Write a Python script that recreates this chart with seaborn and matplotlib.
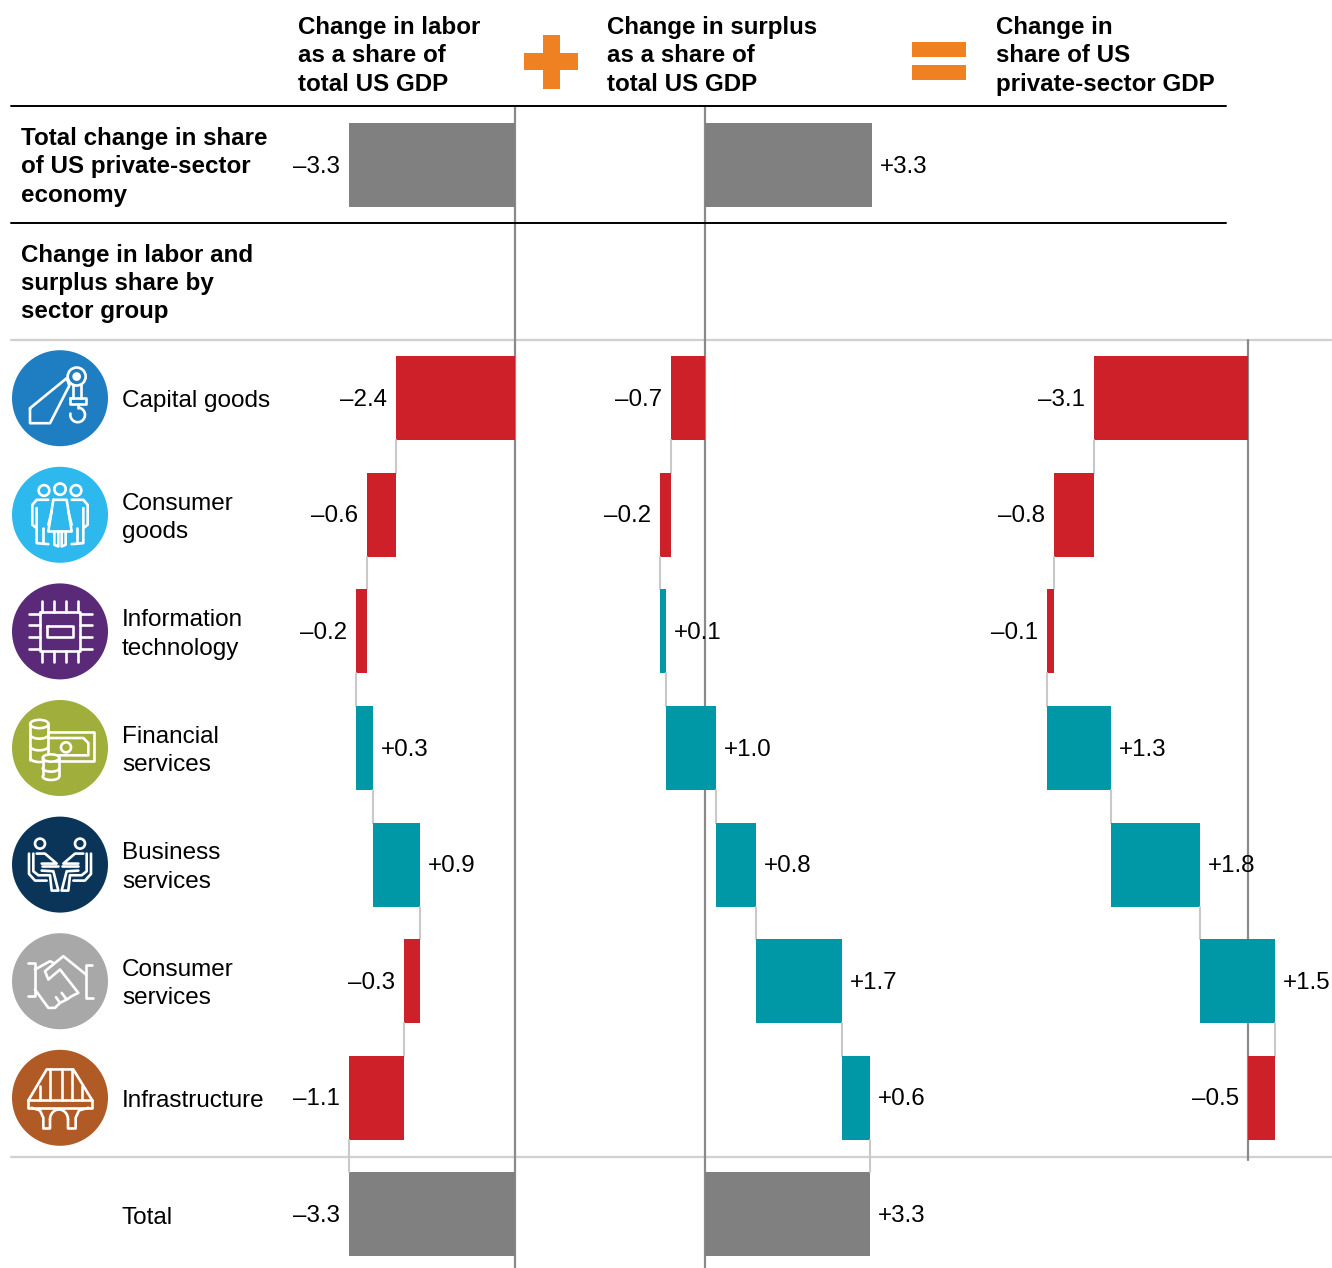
import numpy as np
import matplotlib
matplotlib.use("Agg")
import matplotlib.pyplot as plt
import seaborn as sns
from matplotlib.patches import Circle, Rectangle, Ellipse

sns.set_theme(style="white")
plt.rcParams['font.family'] = ['Liberation Sans', 'DejaVu Sans']

# data
sectors = ["Capital goods", "Consumer\ngoods", "Information\ntechnology", "Financial\nservices",
           "Business\nservices", "Consumer\nservices", "Infrastructure"]
labor = [-2.38, -0.58, -0.22, 0.34, 0.94, -0.32, -1.10]
surplus = [-0.68, -0.22, 0.12, 1.00, 0.80, 1.72, 0.56]
gdp_share = [-3.08, -0.80, -0.14, 1.28, 1.78, 1.50, -0.54]
labor_labels = ["–2.4", "–0.6", "–0.2", "+0.3", "+0.9", "–0.3", "–1.1"]
surplus_labels = ["–0.7", "–0.2", "+0.1", "+1.0", "+0.8", "+1.7", "+0.6"]
gdp_labels = ["–3.1", "–0.8", "–0.1", "+1.3", "+1.8", "+1.5", "–0.5"]
top_total = {"labor": -3.32, "surplus": 3.34}
top_labels = {"labor": "–3.3", "surplus": "+3.3"}
headers = ["Change in labor\nas a share of\ntotal US GDP", "Change in surplus\nas a share of\ntotal US GDP",
           "Change in\nshare of US\nprivate-sector GDP"]

rows = ["top", "group"] + sectors + ["Total"]

RED, TEAL, GREY = "#CD2029", "#0098A6", "#808080"
ORANGE = "#F08122"
CONNECT = "#C9C9C9"
ZERO = "#8A8A8A"
FS = 17.4
W, H = 1332, 1268
PX_PER_UNIT = 50
ROW0 = 165.0
ROW_H = 116.6
BAR_H = 0.72
TEXT_COLOR = "#000000"
LINESP = 1.29

fig = plt.figure(figsize=(W / 100, H / 100), dpi=100)
bg = fig.add_axes([0, 0, 1, 1], zorder=0)
bg.set_xlim(0, W)
bg.set_ylim(H, 0)
bg.axis("off")


def row_y(k):
    return ROW0 + ROW_H * k


def place_label(ax, k, start, end, text):
    lo, hi = min(start, end), max(start, end)
    if end < start:
        ax.annotate(text, (lo, k), xytext=(-6.5, -1.2), textcoords="offset points", ha="right", va="center",
                    fontsize=FS, color=TEXT_COLOR, zorder=5)
    else:
        ax.annotate(text, (hi, k), xytext=(6, -1.2), textcoords="offset points", ha="left", va="center",
                    fontsize=FS, color=TEXT_COLOR, zorder=5)


def draw_panel(zero_px, vals, labels, top=None, top_label=None, total=False):
    ax = fig.add_axes([0, 0, 1, 1], zorder=1)
    ax.patch.set_alpha(0)
    cum = np.concatenate([[0], np.cumsum(vals)])
    if top is not None:
        sns.barplot(x=[top], y=["top"], order=rows, orient="h", color=GREY, saturation=1,
                    width=BAR_H, errorbar=None, linewidth=0, ax=ax)
        place_label(ax, 0, 0, top, top_label)
    for i, v in enumerate(vals):
        k = i + 2
        sns.barplot(x=[v], y=[sectors[i]], order=rows, orient="h", left=cum[i], saturation=1,
                    color=TEAL if v > 0 else RED, width=BAR_H, errorbar=None, linewidth=0, ax=ax)
        place_label(ax, k, cum[i], cum[i + 1], labels[i])
        if i < len(vals) - 1:
            ax.plot([cum[i + 1]] * 2, [k + BAR_H / 2, k + 1 - BAR_H / 2], color=CONNECT, lw=1.5, zorder=1)
    if total:
        sns.barplot(x=[cum[-1]], y=["Total"], order=rows, orient="h", color=GREY, saturation=1,
                    width=BAR_H, errorbar=None, linewidth=0, ax=ax)
        ax.plot([cum[-1]] * 2, [8 + BAR_H / 2, 9 - BAR_H / 2], color=CONNECT, lw=1.5, zorder=1)
        place_label(ax, 9, 0, cum[-1], top_label)
    ax.set_xlim(-zero_px / PX_PER_UNIT, (W - zero_px) / PX_PER_UNIT)
    ax.set_ylim((H - ROW0) / ROW_H, -ROW0 / ROW_H)
    ax.axis("off")
    return ax


draw_panel(515, labor, labor_labels, top_total["labor"], top_labels["labor"], total=True)
draw_panel(705, surplus, surplus_labels, top_total["surplus"], top_labels["surplus"], total=True)
draw_panel(1248, gdp_share, gdp_labels)

# zero lines and rules
bg.plot([515, 515], [106, H], color=ZERO, lw=1.6, zorder=2)
bg.plot([705, 705], [106, H], color=ZERO, lw=1.6, zorder=2)
bg.plot([1248, 1248], [340, 1160], color=ZERO, lw=1.6, zorder=2)
bg.plot([11, 1226], [106, 106], color="black", lw=1.4, zorder=3)
bg.plot([11, 1226], [222.5, 222.5], color="black", lw=1.4, zorder=3)
bg.plot([11, 1332], [340, 340], color="#D0D0D0", lw=1.6, zorder=1)
bg.plot([11, 1332], [1157, 1157], color="#D0D0D0", lw=1.6, zorder=1)

# headers
for x, txt in zip([298, 607, 996.5], headers):
    bg.text(x, 56, txt, fontsize=FS, fontweight="bold", va="center", ha="left", linespacing=LINESP, color=TEXT_COLOR)
bg.text(21, 167, "Total change in share\nof US private-sector\neconomy", fontsize=FS, fontweight="bold",
        va="center", ha="left", linespacing=LINESP, color=TEXT_COLOR)
bg.text(21, 283.5, "Change in labor and\nsurplus share by\nsector group", fontsize=FS, fontweight="bold",
        va="center", ha="left", linespacing=LINESP, color=TEXT_COLOR)

# plus and equals
bg.add_patch(Rectangle((524, 52.5), 54, 17, color=ORANGE, lw=0))
bg.add_patch(Rectangle((542.5, 34.5), 17, 54, color=ORANGE, lw=0))
bg.add_patch(Rectangle((912, 42), 54, 15, color=ORANGE, lw=0))
bg.add_patch(Rectangle((912, 65), 54, 15, color=ORANGE, lw=0))

# sector names
for i, name in enumerate(sectors):
    dy = 3 if "\n" in name else 3
    bg.text(122, row_y(i + 2) + dy, name, fontsize=17.5, va="center", ha="left", linespacing=1.37, color=TEXT_COLOR)
bg.text(122, row_y(9) + 4, "Total", fontsize=17.5, va="center", ha="left", color=TEXT_COLOR)


# icons, coordinates in 3x zoom units around the circle centre
class Icon:
    def __init__(self, cy, color):
        self.cx, self.cy = 60, cy
        bg.add_patch(Circle((self.cx, cy), 48, color=color, lw=0, zorder=3))

    def line(self, pts, close=False, lw=1.9):
        pts = np.array(pts, dtype=float) / 3
        if close:
            pts = np.vstack([pts, pts[0]])
        bg.plot(self.cx + pts[:, 0], self.cy + pts[:, 1], color="white", lw=lw, zorder=4,
                solid_joinstyle="round", solid_capstyle="round")

    def mirror(self, pts):
        self.line(pts)
        self.line([(-x, y) for x, y in pts])

    def ring(self, x, y, r, fill=False):
        bg.add_patch(Circle((self.cx + x / 3, self.cy + y / 3), r / 3, fc="white" if fill else "none",
                            ec="white", lw=1.9, zorder=4))

    def arc(self, x, y, rx, ry, a0, a1):
        t = np.radians(np.arange(a0, a1 + 1, 10))
        self.line(np.column_stack([x + rx * np.cos(t), y + ry * np.sin(t)]))


# capital goods
ic = Icon(row_y(2), "#1F7DC1")
ic.line([(-90, 30), (-90, 75), (-30, 75), (28, -38), (20, -60)], close=True)
ic.ring(50, -65, 27)
ic.ring(50, -65, 9, fill=True)
ic.line([(40, -40), (40, 0)])
ic.line([(63, -40), (63, 0)])
ic.line([(30, 0), (78, 0), (78, 18), (30, 18)], close=True)
ic.line([(53, 18), (53, 30)])
ic.arc(53, 50, 22, 22, -80, 190)

# consumer goods
ic = Icon(row_y(3), "#2DB8EE")
ic.ring(-48, -73, 16)
ic.ring(0, -77, 17)
ic.ring(48, -73, 16)
ic.line([(-20, -45), (20, -45), (35, 50), (-35, 50)], close=True)
ic.line([(-17, 50), (-17, 90), (-5, 95), (-5, 50)])
ic.line([(17, 50), (17, 90), (5, 95), (5, 50)])
ic.mirror([(-35, -45), (-70, -45), (-83, -30), (-83, 30), (-70, 40), (-70, -20)])
ic.mirror([(-70, 40), (-70, 85), (-35, 88)])
ic.mirror([(-50, 40), (-50, 85)])
ic.mirror([(-25, -10), (-35, 30)])

# information technology
ic = Icon(row_y(4), "#5A2A78")
ic.line([(-60, -57), (60, -57), (60, 60), (-60, 60)], close=True)
ic.line([(-38, -17), (40, -17), (40, 18), (-38, 18)], close=True)
for p in [-53, -18, 18, 53]:
    ic.line([(p, -92), (p, -57)])
    ic.line([(p, 60), (p, 93)])
    ic.line([(-93, p), (-60, p)])
    ic.line([(60, p), (95, p)])

# financial services
ic = Icon(row_y(5), "#A0AE3C")
ic.line([(-35, -47), (103, -47), (103, 40), (-15, 40)])
ic.line([(-30, -30), (70, -30), (85, -15), (85, 22), (-20, 22)])
ic.ring(18, -2, 15)
bg.add_patch(Ellipse((ic.cx - 62 / 3, ic.cy - 72 / 3), 55 / 3, 25 / 3, fc="none", ec="white", lw=1.9, zorder=4))
ic.line([(-89, -72), (-89, 35)])
ic.line([(-35, -72), (-35, 20)])
for y in [-40, -5, 30]:
    ic.arc(-62, y, 27, 12, 0, 180)
bg.add_patch(Ellipse((ic.cx - 27 / 3, ic.cy + 30 / 3), 50 / 3, 22 / 3, fc="#A0AE3C", ec="white", lw=1.9, zorder=4))
ic.line([(-52, 30), (-52, 80)])
ic.line([(-2, 30), (-2, 80)])
for y in [60, 85]:
    ic.arc(-27, y, 25, 11, 0, 180)

# business services
ic = Icon(row_y(6), "#0B3558")
ic.ring(-60, -63, 15)
ic.ring(60, -63, 15)
ic.mirror([(-93, -33), (-93, 28), (-75, 48), (-40, 48)])
ic.mirror([(-80, -33), (-80, 20), (-65, 32), (-30, 32), (-25, 78), (-5, 78), (-20, 20), (-55, 18)])
ic.mirror([(-70, -33), (-45, -33), (-10, -3), (-55, -3)])
ic.mirror([(-55, 5), (-5, 5)])

# consumer services
ic = Icon(row_y(7), "#A8A8A8")
ic.line([(-97, -55), (-75, -55), (-75, 45), (-97, 45)])
ic.line([(97, -50), (78, -50), (78, 50), (100, 50)])
ic.line([(-75, -35), (-30, -60), (-20, -55)])
ic.line([(78, -20), (10, -75), (-45, -30), (-35, -5), (0, -35), (55, 35), (35, 45), (20, 55), (0, 65), (-15, 80), (-35, 80), (-75, 25)])
ic.line([(20, 55), (5, 35)])
ic.line([(0, 65), (-12, 48)])

# infrastructure
ic = Icon(row_y(8), "#B05A26")
ic.line([(-95, 8), (97, 8), (97, 30), (-95, 30)], close=True)
ic.line([(-95, 8), (-40, -85), (40, -85), (97, 8)])
for x in [-30, 5, 35]:
    ic.line([(x, -85), (x, 8)])
ic.line([(-60, -35), (-60, 8)])
ic.line([(65, -35), (65, 8)])
ic.line([(-85, 30), (-60, 38), (-50, 60), (-50, 92), (-30, 92), (-30, 65)])
ic.arc(-3, 65, 27, 30, 180, 360)
ic.line([(24, 65), (24, 92), (47, 92), (47, 60), (57, 38), (85, 30)])

fig.savefig("out.png", dpi=100, facecolor="white")
